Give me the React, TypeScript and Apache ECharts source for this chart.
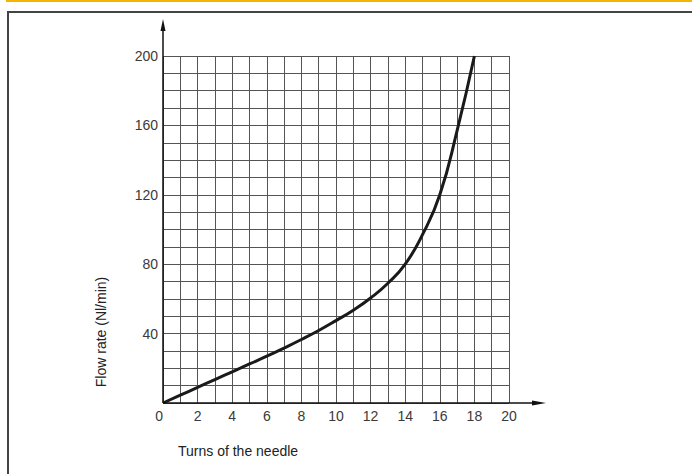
import React, { useEffect, useRef } from "react";
import * as echarts from "echarts";

const turns = [0, 1, 2, 3, 4, 5, 6, 7, 8, 9, 10, 11, 12, 13, 14, 15, 16, 17, 18];
const flow = [0, 4.5, 9, 13.5, 18, 22.5, 27, 31.7, 36.6, 41.8, 47.5, 53.5, 60.5, 69, 80, 97, 120, 157, 200];
const xTickLabels = [0, 2, 4, 6, 8, 10, 12, 14, 16, 18, 20];
const yTickLabels = [40, 80, 120, 160, 200];
const xTitle = "Turns of the needle";
const yTitle = "Flow rate (Nl/min)";

const W = 692;
const H = 474;
const GL = 163;
const GR = 509;
const GT = 56;
const GB = 403;
const FONT = "'Liberation Sans', Arial, sans-serif";

export default function App() {
  const ref = useRef<HTMLDivElement>(null);
  useEffect(() => {
    document.body.style.margin = "0";
    if (!ref.current) return;
    const chart = echarts.init(ref.current, undefined, { renderer: "svg" });
    chart.setOption({
      animation: false,
      backgroundColor: "#fff",
      grid: { left: GL, right: W - GR, top: GT, bottom: H - GB, containLabel: false },
      xAxis: {
        type: "value",
        min: 0,
        max: 20,
        interval: 1,
        axisLine: { show: false },
        axisTick: { show: false },
        splitLine: { show: true, lineStyle: { color: "#555", width: 1 } },
        axisLabel: {
          margin: 6,
          color: "#3a3a3a",
          fontFamily: FONT,
          fontSize: 14,
          alignMinLabel: "right",
          formatter: (v: number) => (xTickLabels.includes(v) ? String(v) : ""),
        },
      },
      yAxis: {
        type: "value",
        min: 0,
        max: 200,
        interval: 10,
        axisLine: { show: false },
        axisTick: { show: false },
        splitLine: { show: true, lineStyle: { color: "#555", width: 1 } },
        axisLabel: {
          margin: 5,
          color: "#3a3a3a",
          fontFamily: FONT,
          fontSize: 14,
          formatter: (v: number) => (yTickLabels.includes(v) ? String(v) : ""),
        },
      },
      series: [
        {
          type: "line",
          data: turns.map((t, i) => [t, flow[i]]),
          smooth: 0.5,
          showSymbol: false,
          lineStyle: { color: "#1a1a1a", width: 3 },
          z: 5,
        },
      ],
      graphic: [
        { type: "rect", shape: { x: 6, y: 0, width: W - 6, height: 2 }, style: { fill: "#f5b400" }, silent: true },
        { type: "rect", shape: { x: 8, y: 12, width: W + 20, height: H + 20 }, style: { fill: "none", stroke: "#444", lineWidth: 2 }, silent: true },
        { type: "line", shape: { x1: GL, y1: GB, x2: GL, y2: 28 }, style: { stroke: "#111", lineWidth: 1.5 }, z: 10 },
        { type: "polygon", shape: { points: [[GL, 19], [GL - 2.5, 31], [GL + 2.5, 31]] }, style: { fill: "#111" }, z: 10 },
        { type: "line", shape: { x1: GL, y1: GB, x2: 535, y2: GB }, style: { stroke: "#111", lineWidth: 1.5 }, z: 10 },
        { type: "polygon", shape: { points: [[546, GB], [532, GB - 2.5], [532, GB + 2.5]] }, style: { fill: "#111" }, z: 10 },
        {
          type: "text",
          x: 101,
          y: 332,
          rotation: Math.PI / 2,
          style: { text: yTitle, fill: "#222", font: `14px ${FONT}`, align: "center", verticalAlign: "middle" },
        },
        {
          type: "text",
          x: 178,
          y: 451,
          style: { text: xTitle, fill: "#222", font: `14px ${FONT}`, align: "left", verticalAlign: "middle" },
        },
      ],
    });
    return () => chart.dispose();
  }, []);
  return <div ref={ref} style={{ width: W, height: H }} />;
}
